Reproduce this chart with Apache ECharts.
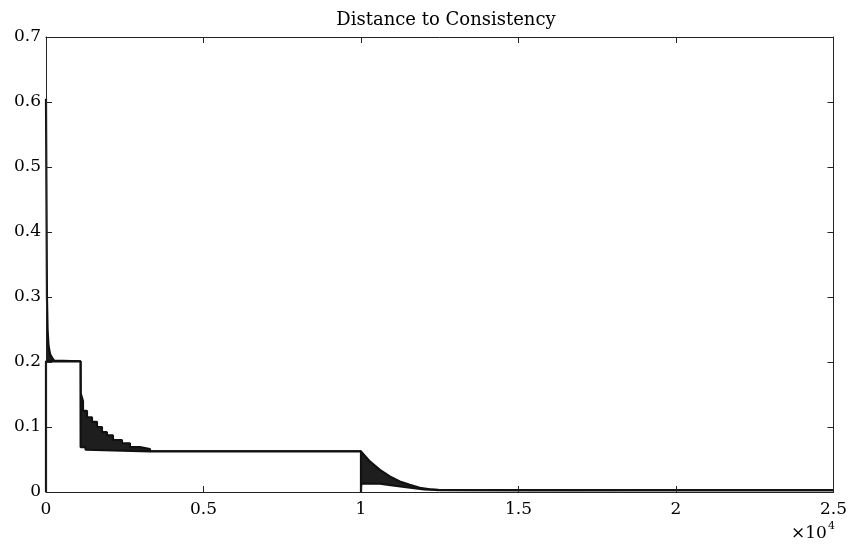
<!DOCTYPE html>
<html>
<head>
<meta charset="utf-8">
<script src="https://cdn.jsdelivr.net/npm/echarts@6/dist/echarts.min.js"></script>
<style>
html,body{margin:0;padding:0;background:#fff;}
#chart{width:850px;height:549px;}
</style>
</head>
<body>
<div id="chart"></div>
<script>
// Upper envelope of the oscillating trace (x in iterations, y distance)
var upperX = [0, 15, 30, 50, 80, 130, 200, 260, 1095, 1100, 1174, 1174, 1301, 1301, 1460, 1460, 1618, 1618, 1777, 1777, 1935, 1935, 2126, 2126, 2411, 2411, 2665, 2665, 2983, 2983, 3300, 3300, 10000, 10010, 10280, 10600, 10915, 11232, 11550, 11867, 12185, 12500, 25000];
var upperY = [0.605, 0.45, 0.30, 0.25, 0.225, 0.212, 0.206, 0.202, 0.201, 0.152, 0.140, 0.125, 0.125, 0.115, 0.115, 0.108, 0.108, 0.100, 0.100, 0.092, 0.092, 0.087, 0.087, 0.080, 0.080, 0.075, 0.075, 0.069, 0.069, 0.066, 0.066, 0.0625, 0.0625, 0.060, 0.047, 0.034, 0.024, 0.016, 0.011, 0.0066, 0.004, 0.003, 0.003];
// Lower envelope of the trace
var lowerX = [0, 0, 1095, 1100, 1250, 1260, 3300, 10000, 10000, 10010, 10600, 11000, 11500, 12000, 12500, 25000];
var lowerY = [0, 0.201, 0.201, 0.069, 0.069, 0.065, 0.0625, 0.0625, 0, 0.013, 0.013, 0.010, 0.007, 0.004, 0.003, 0.003];
var xTicks = [0, 5000, 10000, 15000, 20000, 25000];
var yTicks = [0, 0.1, 0.2, 0.3, 0.4, 0.5, 0.6, 0.7];

function pairs(xs, ys) { return xs.map(function (x, i) { return [x, ys[i]]; }); }

var FONT = 'DejaVu Serif';
var chart = echarts.init(document.getElementById('chart'), null, { renderer: 'canvas' });
var axisLine = { show: true, onZero: false, lineStyle: { color: '#222', width: 1 } };
var tick = { show: true, inside: true, length: 6, lineStyle: { color: '#222', width: 1 } };

chart.setOption({
  animation: false,
  backgroundColor: '#fff',
  title: {
    text: 'Distance to Consistency',
    left: 441, top: 6, textAlign: 'center',
    textStyle: { fontFamily: FONT, fontSize: 18, fontWeight: 'normal', color: '#000' }
  },
  grid: { left: 46, right: 16, top: 37, bottom: 57 },
  xAxis: [{
    type: 'value', min: xTicks[0], max: xTicks[xTicks.length - 1], interval: xTicks[1] - xTicks[0],
    position: 'bottom', z: 5,
    axisLine: axisLine, axisTick: tick, splitLine: { show: false },
    axisLabel: { margin: 9, color: '#000', fontFamily: FONT, fontSize: 17,
      formatter: function (v) { return String(v / 10000); } }
  }, {
    type: 'value', min: xTicks[0], max: xTicks[xTicks.length - 1], interval: xTicks[1] - xTicks[0],
    position: 'top', z: 5,
    axisLine: axisLine, axisTick: tick, splitLine: { show: false }, axisLabel: { show: false }
  }],
  yAxis: [{
    type: 'value', min: yTicks[0], max: yTicks[yTicks.length - 1], interval: 0.1,
    position: 'left', z: 5,
    axisLine: axisLine, axisTick: tick, splitLine: { show: false },
    axisLabel: { margin: 5, color: '#000', fontFamily: FONT, fontSize: 17,
      formatter: function (v) { return v === 0 ? '0' : v.toFixed(1); } }
  }, {
    type: 'value', min: yTicks[0], max: yTicks[yTicks.length - 1], interval: 0.1,
    position: 'right', z: 5,
    axisLine: axisLine, axisTick: tick, splitLine: { show: false }, axisLabel: { show: false }
  }],
  series: [{
    type: 'line', name: 'upper', data: pairs(upperX, upperY), showSymbol: false, z: 1,
    lineStyle: { color: '#111', width: 2.2 },
    areaStyle: { color: '#1e1e1e', opacity: 1 }
  }, {
    type: 'line', name: 'lower', data: pairs(lowerX, lowerY), showSymbol: false, z: 2,
    lineStyle: { color: '#111', width: 2.2 },
    areaStyle: { color: '#fff', opacity: 1 }
  }],
  graphic: [
    { type: 'text', left: 791, top: 525, style: { text: '×10', font: '17px "DejaVu Serif"', fill: '#000' } },
    { type: 'text', left: 828, top: 521, style: { text: '4', font: '11px "DejaVu Serif"', fill: '#000' } }
  ]
});
</script>
</body>
</html>
